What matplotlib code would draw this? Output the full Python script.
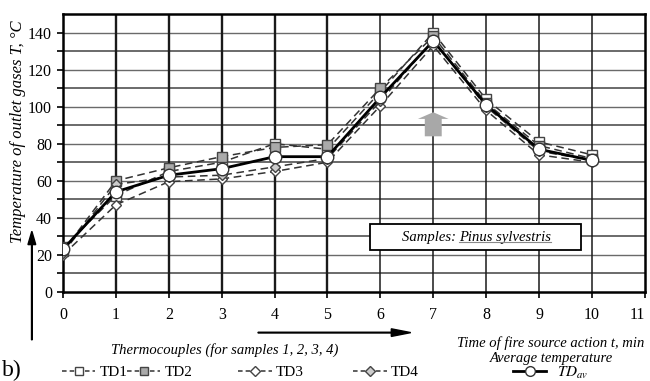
import matplotlib.pyplot as plt
from matplotlib.lines import Line2D
from matplotlib.patches import FancyArrow

plt.rcParams['font.family'] = ['Liberation Serif', 'DejaVu Serif']
plt.rcParams['mathtext.fontset'] = 'stix'

# time of fire source action, min
t = [0, 1, 2, 3, 4, 5, 6, 7, 8, 9, 10]
td1 = [24, 52, 65, 70, 80, 77, 108, 140, 104, 81, 74]
td2 = [22, 60, 67, 73, 78, 79.5, 110, 138, 102, 79, 72]
td3 = [20, 47, 59.5, 61, 65, 70, 100.5, 133, 98, 74, 70]
td4 = [21, 58, 62, 63, 67.5, 72, 103, 136, 100, 76, 71]
td_av = [23, 54, 63, 66.5, 73, 73, 105, 135.5, 101, 77, 71]

x_ticks = list(range(12))
y_ticks = [0, 20, 40, 60, 80, 100, 120, 140]

fig = plt.figure(figsize=(6.5, 3.81), dpi=100)
ax = fig.add_axes([0.097, 0.234, 0.895, 0.729])

# grid
for yv in range(10, 150, 10):
    ax.axhline(yv, color='#6a6a6a', lw=1.4 if yv % 20 else 1.0, zorder=1)
for xv in range(1, 11):
    ax.axvline(xv, color='#1a1a1a', lw=1.7 if xv <= 5 else 1.1, zorder=1)

dash = dict(ls=(0, (5, 3)), color='#333333', lw=1.1, zorder=3)
ax.plot(t, td1, marker='s', mfc='white', mec='#444444', markersize=6.5, **dash)
ax.plot(t, td2, marker='s', mfc='#aaaaaa', mec='#444444', markersize=6.5, **dash)
ax.plot(t, td3, marker='D', mfc='white', mec='#444444', markersize=5, **dash)
ax.plot(t, td4, marker='D', mfc='#cccccc', mec='#444444', markersize=5, **dash)
ax.plot(t, td_av, marker='o', mfc='white', mec='#333333', color='black', lw=2,
        markersize=9, zorder=4)

ax.set_xlim(0, 11)
ax.set_ylim(0, 150)
ax.set_xticks(x_ticks)
ax.set_yticks(y_ticks)
ax.set_yticks(range(10, 150, 20), minor=True)
ax.tick_params(axis='both', labelsize=11.5, direction='out', length=4, width=1.2, pad=4)
ax.tick_params(axis='x', pad=7)
ax.tick_params(axis='y', which='minor', length=4, width=1.2)
ax.get_xticklabels()[-1].set_ha('right')
for s in ax.spines.values():
    s.set_linewidth(1.8)

# gray arrow at the peak
ax.add_patch(FancyArrow(7, 84, 0, 13, width=0.32, head_width=0.58, head_length=3.6,
                        length_includes_head=True, color='#a8a8a8', lw=0, zorder=2))

# samples box
ax.add_patch(plt.Rectangle((5.8, 22.7), 4.0, 14.2, fc='white', ec='black', lw=1.3,
                           zorder=5))
t1 = ax.text(6.4, 29.5, 'Samples: ', fontsize=10.5, style='italic', ha='left',
             va='center', zorder=6)
t2 = ax.annotate('Pinus sylvestris', xy=(1, 0), xycoords=t1, va='bottom', ha='left',
                 fontsize=10.5, style='italic', zorder=6)
fig.canvas.draw()
bb = t2.get_window_extent()
inv = ax.transData.inverted()
(ux0, uy), (ux1, _) = inv.transform([(bb.x0, bb.y0 + 2), (bb.x1, bb.y0 + 2)])
ax.plot([ux0, ux1], [uy, uy], color='#888888', lw=0.8, zorder=6)

fig.text(0.027, 0.655, 'Temperature of outlet gases T, °C', rotation=90, ha='center',
         va='center', fontsize=12, style='italic')
fig.text(0.992, 0.1, 'Time of fire source action t, min', ha='right', va='center',
         fontsize=10.5, style='italic')
fig.text(0.17, 0.081, 'Thermocouples (for samples 1, 2, 3, 4)', ha='left', va='center',
         fontsize=10.5, style='italic')
fig.text(0.848, 0.06, 'Average temperature', ha='center', va='center', fontsize=10.5,
         style='italic')
fig.text(0.003, 0.012, 'b)', ha='left', va='baseline', fontsize=17)

# axis arrows
fig.patches.append(FancyArrow(0.049, 0.108, 0, 0.285, width=0.001, head_width=0.012,
                              head_length=0.035, length_includes_head=True,
                              color='black', transform=fig.transFigure, figure=fig))
fig.patches.append(FancyArrow(0.397, 0.127, 0.235, 0, width=0.002, head_width=0.02,
                              head_length=0.03, length_includes_head=True,
                              color='black', transform=fig.transFigure, figure=fig))

lk = dict(ls=(0, (3, 2)), color='#333333', lw=1.1)
entries = [
    (Line2D([], [], marker='s', mfc='white', mec='#444444', markersize=6, **lk), 'TD1', 0.095),
    (Line2D([], [], marker='s', mfc='#aaaaaa', mec='#444444', markersize=6, **lk), 'TD2', 0.195),
    (Line2D([], [], marker='D', mfc='white', mec='#444444', markersize=5, **lk), 'TD3', 0.366),
    (Line2D([], [], marker='D', mfc='#cccccc', mec='#444444', markersize=5, **lk), 'TD4', 0.543),
    (Line2D([], [], marker='o', mfc='white', mec='#333333', color='black', lw=2,
            markersize=7), r'$\mathit{TD}_{av}$', 0.789),
]
for h, lab, xl in entries:
    fig.legend([h], [lab], loc='center left', bbox_to_anchor=(xl, 0.022), frameon=False,
               fontsize=11, handlelength=2.2, handletextpad=0.3 if lab[0] != '$' else 0.7,
               borderpad=0, borderaxespad=0)

fig.savefig('out.png', dpi=100)
